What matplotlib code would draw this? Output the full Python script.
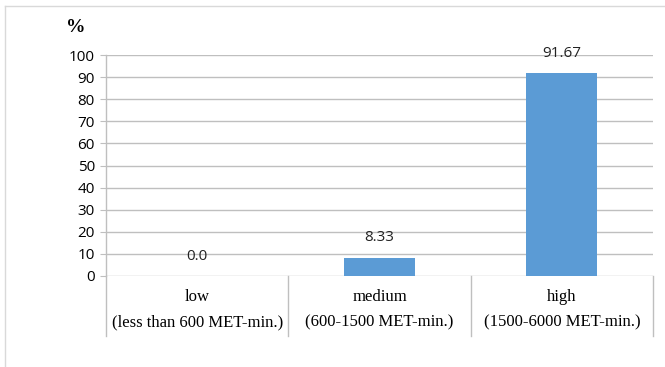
import numpy as np
import matplotlib.pyplot as plt
from matplotlib.lines import Line2D

# physical activity levels (IPAQ categories)
levels = ['low', 'medium', 'high']
ranges = ['(less than 600 MET-min.)', '(600-1500 MET-min.)', '(1500-6000 MET-min.)']
percent = [0.0, 8.33, 91.67]
value_text = ['0.0', '8.33', '91.67']
yticks = list(range(0, 101, 10))

bar_color = '#5b9bd5'
grid_color = '#bfbfbf'

fig = plt.figure(figsize=(6.65, 3.67), dpi=100)
ax = fig.add_axes([0.1594, 0.248, 0.8226, 0.602])

x = np.arange(len(levels))
ax.bar(x, percent, width=0.39, color=bar_color, zorder=3)
for xi, v, t in zip(x, percent, value_text):
    ax.text(xi, v + 5.5, t, ha='center', va='bottom', fontsize=11,
            family='Open Sans', color='#222222')

ax.set_xlim(-0.5, len(levels) - 0.5)
ax.set_ylim(0, 100)
ax.set_yticks(yticks)
ax.set_yticklabels([str(t) for t in yticks], fontsize=11, family='Open Sans')
ax.yaxis.grid(True, color=grid_color, linewidth=1, zorder=0)
ax.tick_params(axis='y', length=4, color=grid_color, pad=4)
ax.set_xticks([])
for s in ['top', 'right', 'bottom']:
    ax.spines[s].set_visible(False)
ax.spines['left'].set_color(grid_color)
ax.spines['left'].set_linewidth(1)

# category labels and separators below the axis
trans = ax.get_xaxis_transform()
for xi, lv, rg in zip(x, levels, ranges):
    ax.text(xi, -0.095, lv, transform=trans, ha='center', va='center',
            fontsize=12, family='Liberation Serif')
    ax.text(xi, -0.21, rg, transform=trans, ha='center', va='center',
            fontsize=12, family='Liberation Serif')
for b in np.arange(-0.5, len(levels), 1.0):
    ax.add_line(Line2D([b, b], [0, -0.27], transform=trans, color=grid_color,
                       linewidth=1, clip_on=False))

fig.text(66 / 665, 1 - 28 / 367, '%', ha='left', va='center', fontsize=14,
         fontweight='bold', family='Liberation Serif')

# light frame around the chart
fig.add_artist(Line2D([5 / 665, 5 / 665], [0, 1 - 6 / 367], transform=fig.transFigure,
                      color='#d9d9d9', linewidth=1))
fig.add_artist(Line2D([5 / 665, 1], [1 - 6 / 367, 1 - 6 / 367], transform=fig.transFigure,
                      color='#d9d9d9', linewidth=1))

fig.savefig('out.png', dpi=100)
